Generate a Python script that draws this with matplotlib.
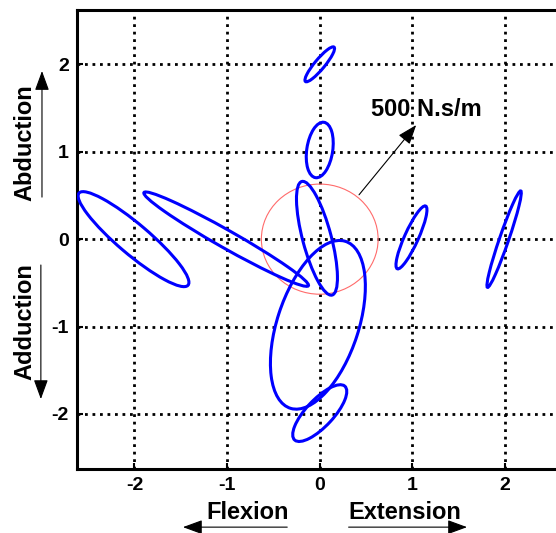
import numpy as np
from matplotlib import pyplot as plt
from matplotlib.patches import Ellipse, Circle, FancyArrowPatch

plt.rcParams['font.family'] = ['Liberation Sans', 'DejaVu Sans']
plt.rcParams['font.weight'] = 'bold'
plt.rcParams['axes.unicode_minus'] = False

# ellipse data: centre, half axes, orientation (deg)
cx = [0.0, 0.0, -0.03, -0.02, 0.0, -2.01, -1.01, 0.99, 1.99]
cy = [2.0, 1.02, 0.01, -0.98, -1.99, 0.0, 0.0, 0.02, 0.0]
major = [0.25, 0.32, 0.67, 1.0, 0.41, 0.79, 1.035, 0.39, 0.58]
minor = [0.055, 0.14, 0.155, 0.44, 0.15, 0.17, 0.10, 0.075, 0.05]
angle = [52, 82, 104, 73, 49, 138, 149, 67, 72]

ref_radius = 0.63
ref_label = '500 N.s/m'
ticks = [-2, -1, 0, 1, 2]

fig = plt.figure(figsize=(5.56, 5.33), dpi=100)
ax = fig.add_axes([0.1385, 0.12, 0.8615, 0.861])

for x, y, a, b, t in zip(cx, cy, major, minor, angle):
    ax.add_patch(Ellipse((x, y), 2 * a, 2 * b, angle=t, fill=False,
                         edgecolor='#0000ff', lw=2.2, zorder=3))

ax.add_patch(Circle((0, 0), ref_radius, fill=False, edgecolor='#ff6b6b',
                    lw=0.8, zorder=2))

arr = dict(arrowstyle='-|>,head_length=0.6,head_width=0.22', color='k', lw=0.8,
           mutation_scale=20)

# arrow from the reference circle to the label
th = np.deg2rad(50)
ax.annotate('', xy=(1.06, 1.33), xytext=(ref_radius * np.cos(th), ref_radius * np.sin(th)),
            arrowprops=arr, zorder=4)
ax.text(1.15, 1.48, ref_label, ha='center', va='center', fontsize=17,
        fontweight='bold', zorder=5)

ax.set_xlim(-2.62, 2.55)
ax.set_ylim(-2.63, 2.62)
ax.set_xticks(ticks)
ax.set_yticks(ticks)
ax.grid(True, color='k', linestyle=(0, (1, 1.7)), linewidth=2)
ax.tick_params(direction='in', length=4, width=1.5, labelsize=14, pad=6)
for lab in ax.get_xticklabels() + ax.get_yticklabels():
    lab.set_fontweight('bold')
for s in ['left', 'bottom', 'top']:
    ax.spines[s].set_linewidth(2.2)
ax.spines['right'].set_visible(False)

# direction labels and arrows
fig.text(0.045, 0.732, 'Abduction', rotation=90, ha='center', va='center',
         fontsize=17, fontweight='bold')
fig.text(0.045, 0.396, 'Adduction', rotation=90, ha='center', va='center',
         fontsize=17, fontweight='bold')
fig.text(0.445, 0.039, 'Flexion', ha='center', va='center', fontsize=17,
         fontweight='bold')
fig.text(0.7275, 0.039, 'Extension', ha='center', va='center', fontsize=17,
         fontweight='bold')
for start, end in [((0.0755, 0.625), (0.0755, 0.872)),
                   ((0.0735, 0.508), (0.0735, 0.246)),
                   ((0.5216, 0.011), (0.324, 0.011)),
                   ((0.622, 0.011), (0.845, 0.011))]:
    fig.add_artist(FancyArrowPatch(start, end, transform=fig.transFigure, **arr))

fig.savefig('out.png', dpi=100)
